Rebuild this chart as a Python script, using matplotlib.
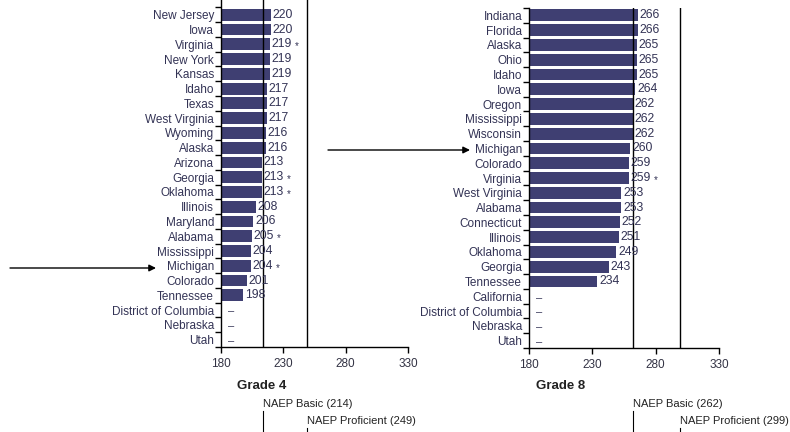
import numpy as np
import matplotlib.pyplot as plt
from matplotlib.patches import FancyArrowPatch
from matplotlib.transforms import blended_transform_factory

plt.rcParams['font.family'] = ['Liberation Sans', 'DejaVu Sans']

W, H = 790, 432

# Grade 4 average scale scores (top to bottom), None = not reported
grade4_states = ['New Jersey', 'Iowa', 'Virginia', 'New York', 'Kansas', 'Idaho', 'Texas',
                 'West Virginia', 'Wyoming', 'Alaska', 'Arizona', 'Georgia', 'Oklahoma',
                 'Illinois', 'Maryland', 'Alabama', 'Mississippi', 'Michigan', 'Colorado',
                 'Tennessee', 'District of Columbia', 'Nebraska', 'Utah']
grade4_scores = [220, 220, 219, 219, 219, 217, 217, 217, 216, 216, 213, 213, 213,
                 208, 206, 205, 204, 204, 201, 198, None, None, None]
grade4_starred = ['Virginia', 'Georgia', 'Oklahoma', 'Alabama', 'Michigan']

# Grade 8
grade8_states = ['Indiana', 'Florida', 'Alaska', 'Ohio', 'Idaho', 'Iowa', 'Oregon',
                 'Mississippi', 'Wisconsin', 'Michigan', 'Colorado', 'Virginia',
                 'West Virginia', 'Alabama', 'Connecticut', 'Illinois', 'Oklahoma',
                 'Georgia', 'Tennessee', 'California', 'District of Columbia',
                 'Nebraska', 'Utah']
grade8_scores = [266, 266, 265, 265, 265, 264, 262, 262, 262, 260, 259, 259,
                 253, 253, 252, 251, 249, 243, 234, None, None, None, None]
grade8_starred = ['Virginia']

naep4 = (214, 249)
naep8 = (262, 299)
xticks = [180, 230, 280, 330]

BAR = '#3f3f72'
TXT = '#333355'


def px(x0, y_top, x1, y_bot):
    # pixel box (from top-left) -> figure rect
    return [x0 / W, (H - y_bot) / H, (x1 - x0) / W, (y_bot - y_top) / H]


def draw_panel(fig, rect, states, scores, starred, naep, title, title_x, ytop):
    ax = fig.add_axes(rect)
    n = len(states)
    ys = np.arange(n)[::-1]
    for yi, s, v in zip(ys, states, scores):
        if v is None:
            ax.annotate('–', xy=(180, yi), xytext=(5, -1), textcoords='offset points',
                        ha='left', va='center', fontsize=8, color=TXT)
            continue
        ax.barh(yi, v - 180, left=180, height=0.8, color=BAR, zorder=2)
        ax.annotate(str(v), xy=(v, yi), xytext=(1.2, 0), textcoords='offset points',
                    ha='left', va='center', fontsize=8.8, color=TXT, zorder=4)
        if s in starred:
            ax.annotate('*', xy=(v, yi), xytext=(18, -1.5), textcoords='offset points',
                        ha='left', va='center', fontsize=7, color=TXT, zorder=4)

    basic, prof = naep
    ax.axvline(basic, color='black', lw=1, zorder=3)
    ax.axvline(prof, color='black', lw=1, zorder=3)

    ax.set_xlim(180, 330)
    ax.set_ylim(-0.5, ytop)
    ax.set_xticks(xticks)
    ax.set_yticks(ys)
    ax.set_yticklabels(states, fontsize=8.5, color=TXT)
    ax.set_yticks(np.arange(-0.5, n, 1), minor=True)
    ax.tick_params(axis='y', which='major', length=0, pad=5)
    ax.tick_params(axis='y', which='minor', length=4, width=1, direction='out')
    ax.tick_params(axis='x', length=4, width=1, pad=4, labelsize=8.5, labelcolor='#333344')
    for sp in ['top', 'right']:
        ax.spines[sp].set_visible(False)
    for sp in ['left', 'bottom']:
        ax.spines[sp].set_color('black')
        ax.spines[sp].set_linewidth(1)

    # labels and leader lines below the axis
    trans = blended_transform_factory(ax.transData, fig.transFigure)
    ax.plot([basic, basic], [0, (H - 411) / H], transform=trans, clip_on=False,
            color='black', lw=0.8)
    ax.plot([prof, prof], [0, (H - 428) / H], transform=trans, clip_on=False,
            color='black', lw=0.8)
    ax.text(basic, (H - 404) / H, f'NAEP Basic ({basic})', transform=trans,
            ha='left', va='center', fontsize=8, color='#222222')
    ax.text(prof, (H - 421) / H, f'NAEP Proficient ({prof})', transform=trans,
            ha='left', va='center', fontsize=8, color='#222222')
    fig.text(title_x / W, (H - 386) / H, title, ha='center', va='center',
             fontsize=9.5, fontweight='bold', color='#222222')
    return ax


fig = plt.figure(figsize=(W / 100, H / 100), dpi=100)

draw_panel(fig, px(221, 0, 408, 347), grade4_states, grade4_scores, grade4_starred,
           naep4, 'Grade 4', 262, 23.0)
draw_panel(fig, px(529, 8, 719, 348), grade8_states, grade8_scores, grade8_starred,
           naep8, 'Grade 8', 561, 22.5)

# arrows pointing at Michigan
for x0, x1, yp in [(10, 156, 268), (328, 470, 150)]:
    fig.add_artist(FancyArrowPatch((x0 / W, (H - yp) / H), (x1 / W, (H - yp) / H),
                                   transform=fig.transFigure, arrowstyle='-|>',
                                   mutation_scale=10, color='black', lw=1,
                                   shrinkA=0, shrinkB=0))

fig.savefig('out.png', dpi=100)
